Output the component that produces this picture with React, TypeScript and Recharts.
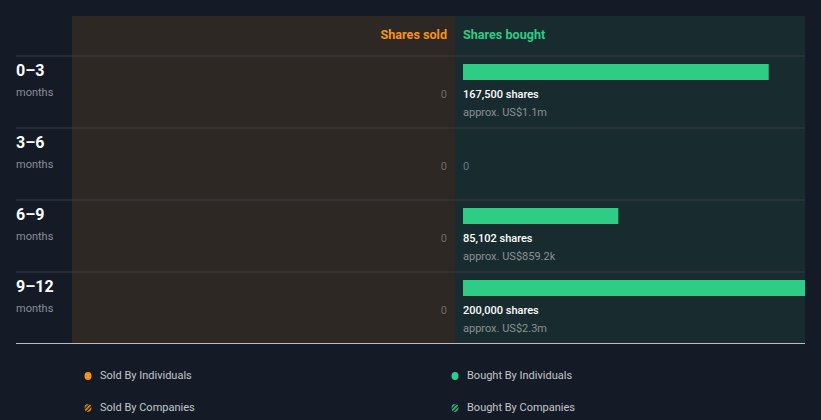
import React from 'react';
import { BarChart, Bar, XAxis, YAxis, LabelList } from 'recharts';

const periods = ['0–3', '3–6', '6–9', '9–12'];
const sharesBought = [167500, 0, 85102, 200000];
const valueBought = ['US$1.1m', '', 'US$859.2k', 'US$2.3m'];
const sharesSold = [0, 0, 0, 0];
const legendItems = [
  { label: 'Sold By Individuals', color: '#f7931a', hatched: false },
  { label: 'Bought By Individuals', color: '#2ecc85', hatched: false },
  { label: 'Sold By Companies', color: '#f7931a', hatched: true },
  { label: 'Bought By Companies', color: '#2ecc85', hatched: true },
];
const X_MAX = 187400;

const data = periods.map((p, i) => ({ period: p, bought: sharesBought[i], sold: sharesSold[i] }));

const W = 821;
const H = 420;
const PLOT_TOP = 56;
const PLOT_BOTTOM = 344;
const PLOT_LEFT = 463;
const PLOT_RIGHT = 805;
const ROW_H = (PLOT_BOTTOM - PLOT_TOP) / periods.length;
const BG = '#151b26';
const SOLD_BG = '#2d2823';
const BOUGHT_BG = '#182b2f';
const GREEN = '#2ecc85';
const ORANGE = '#f7931a';
const FONT = 'Roboto, "Noto Sans", sans-serif';

const fmt = (n: number) => n.toLocaleString('en-US');

const RowTick = (props: any) => {
  const { y, payload } = props;
  const top = y - ROW_H / 2;
  return (
    <g>
      <line x1={16} x2={PLOT_RIGHT} y1={top} y2={top} stroke="#3a3c40" strokeWidth={1} />
      <text x={16} y={y - 22} dominantBaseline="central" fill="#ffffff" fontSize={16} fontWeight={700} fontFamily={FONT}>
        {payload.value}
      </text>
      <text x={16} y={y} dominantBaseline="central" fill="#8a8f98" fontSize={11} fontFamily={FONT}>
        months
      </text>
    </g>
  );
};

const BarShape = (p: any) => {
  const w = Math.max(0, Math.min(p.width, PLOT_RIGHT - p.x));
  if (!w) return null;
  return <rect x={p.x} y={p.y - 20} width={w} height={p.height} fill={GREEN} />;
};

const renderLabel = (props: any) => {
  const vb = props.viewBox || props;
  const y = (vb.y ?? props.y) as number;
  const h = (vb.height ?? props.height) as number;
  const idx = props.index as number;
  const center = y + h / 2;
  const v = sharesBought[idx];
  return (
    <g>
      <text x={PLOT_LEFT - 16} y={center + 2} textAnchor="end" dominantBaseline="central" fill="#6f6a64" fontSize={11} fontFamily={FONT}>
        {fmt(sharesSold[idx])}
      </text>
      {v > 0 ? (
        <g>
          <text x={PLOT_LEFT} y={center + 2} dominantBaseline="central" fill="#ffffff" fontSize={11} fontWeight={500} fontFamily={FONT}>
            {fmt(v)} shares
          </text>
          <text x={PLOT_LEFT} y={center + 20} dominantBaseline="central" fill="#8a9296" fontSize={11} fontFamily={FONT}>
            approx. {valueBought[idx]}
          </text>
        </g>
      ) : (
        <text x={PLOT_LEFT} y={center + 2} dominantBaseline="central" fill="#6b7678" fontSize={11} fontFamily={FONT}>
          0
        </text>
      )}
    </g>
  );
};

const LegendIcon = ({ color, hatched, id }: { color: string; hatched: boolean; id: string }) => (
  <svg width={10} height={10} style={{ display: 'block' }}>
    <defs>
      <pattern id={id} width={3} height={3} patternUnits="userSpaceOnUse" patternTransform="rotate(45)">
        <rect width={3} height={3} fill={BG} />
        <rect width={1.6} height={3} fill={color} />
      </pattern>
    </defs>
    <ellipse cx={5} cy={5} rx={3.5} ry={3.9} fill={hatched ? `url(#${id})` : color} />
  </svg>
);

export default function App() {
  return (
    <div style={{ position: 'absolute', left: 0, top: 0, width: W, height: H, background: BG, fontFamily: FONT, overflow: 'hidden' }}>
      <div style={{ position: 'absolute', left: 72, top: 16, width: PLOT_LEFT - 8 - 72, height: 343 - 16, background: SOLD_BG }} />
      <div style={{ position: 'absolute', left: PLOT_LEFT - 8, top: 16, width: PLOT_RIGHT - (PLOT_LEFT - 8), height: 343 - 16, background: BOUGHT_BG }} />
      <div style={{ position: 'absolute', right: W - (PLOT_LEFT - 16), top: 27, color: ORANGE, fontSize: 12.6, fontWeight: 700, lineHeight: '16px' }}>Shares sold</div>
      <div style={{ position: 'absolute', left: PLOT_LEFT, top: 27, color: GREEN, fontSize: 12.6, fontWeight: 700, lineHeight: '16px' }}>Shares bought</div>
      <div style={{ position: 'absolute', left: 16, top: 343, width: PLOT_RIGHT - 16, height: 1, background: '#b9bcc0' }} />
      <div style={{ position: 'absolute', left: 0, top: 0 }}>
        <BarChart width={W} height={H} data={data} layout="vertical" margin={{ top: PLOT_TOP, bottom: H - PLOT_BOTTOM, left: PLOT_LEFT - 1, right: W - PLOT_RIGHT }}>
          <XAxis type="number" domain={[0, X_MAX]} allowDataOverflow hide />
          <YAxis type="category" dataKey="period" width={1} axisLine={false} tickLine={false} tick={(p: any) => <RowTick {...p} />} interval={0} />
          <Bar dataKey="bought" barSize={16} isAnimationActive={false} shape={<BarShape />}>
            <LabelList dataKey="bought" content={renderLabel} />
          </Bar>
        </BarChart>
      </div>
      {legendItems.map((it, i) => {
        const col = i % 2;
        const row = Math.floor(i / 2);
        return (
          <div key={it.label} style={{ position: 'absolute', left: col === 0 ? 83 : 450, top: 369 + row * 32, display: 'flex', alignItems: 'center', height: 13 }}>
            <LegendIcon color={it.color} hatched={it.hatched} id={`hatch${i}`} />
            <span style={{ marginLeft: 7, color: '#c3c6cc', fontSize: 11, lineHeight: '13px' }}>{it.label}</span>
          </div>
        );
      })}
    </div>
  );
}
